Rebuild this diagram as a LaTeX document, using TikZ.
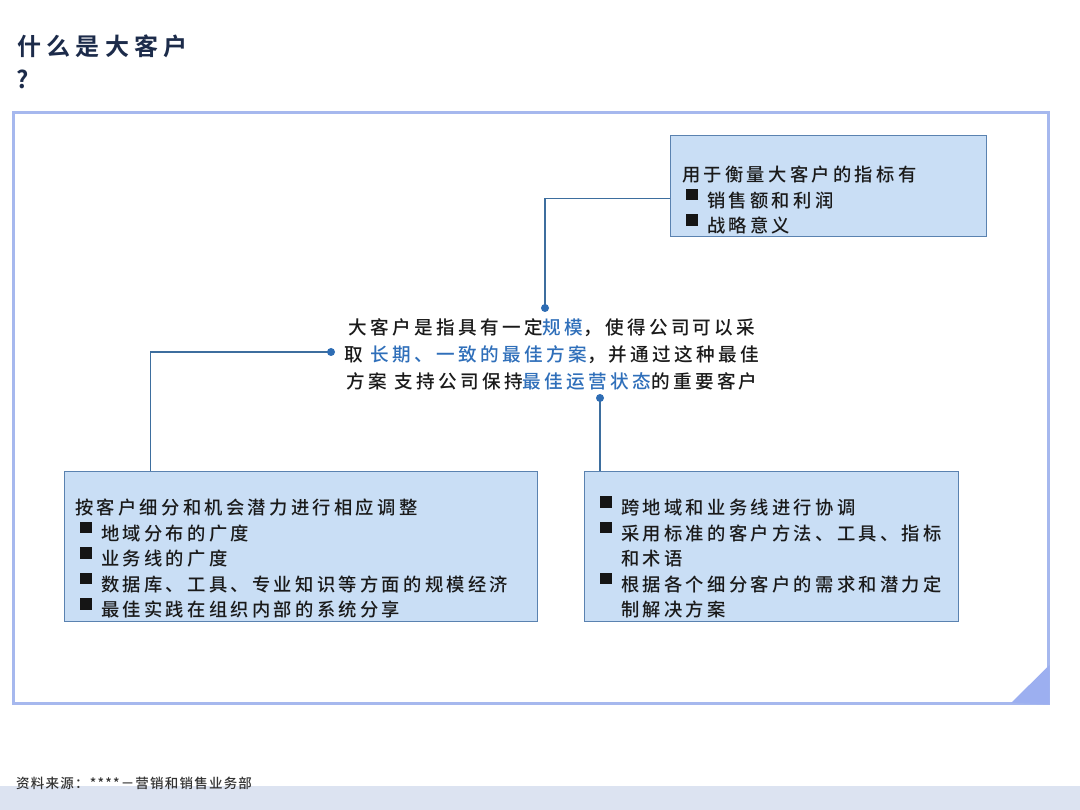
\documentclass[tikz,border=0pt]{standalone}
\usepackage{fontspec}
\newfontfamily\cjk[LetterSpace=18]{Noto Sans CJK SC Medium}
\newfontfamily\cjkt[LetterSpace=22]{Noto Sans CJK SC Bold}
\newfontfamily\cjks[LetterSpace=9]{Noto Sans CJK SC Medium}
\definecolor{bandcol}{HTML}{DCE3F1}
\definecolor{framecol}{HTML}{A6B8EE}
\definecolor{trifill}{HTML}{9CAFF0}
\definecolor{boxfill}{HTML}{C9DEF5}
\definecolor{boxline}{HTML}{5A82B0}
\definecolor{conncol}{HTML}{3D6E9E}
\definecolor{dotcol}{HTML}{2E6DB4}
\definecolor{hl}{HTML}{2F6FBA}
\definecolor{titlecol}{HTML}{1C2B4A}
\definecolor{txt}{HTML}{1A1A1A}
\definecolor{srccol}{HTML}{333333}
\newcommand{\bsq}{\makebox[21pt][l]{\raisebox{7pt}[0pt][0pt]{\color{txt!80!black}\rule{11.5pt}{11.5pt}}}}
\begin{document}
\begin{tikzpicture}[x=1pt,y=-1pt,
  infobox/.style={draw=boxline, line width=1pt, fill=boxfill, inner sep=0pt, anchor=north west},
  boxtext/.style={anchor=north west, inner sep=0pt, align=left, text=txt, font=\cjk\fontsize{18.3}{25.5}\selectfont},
  conn/.style={draw=conncol, line width=1.5pt},
  dotmark/.style={fill=dotcol}]
\useasboundingbox (0,0) rectangle (1080,810);
\fill[white] (0,0) rectangle (1080,810);
\fill[bandcol] (0,786) rectangle (1080,810);
% frame
\draw[framecol, line width=3pt] (13,113) rectangle (1048,703);
\fill[trifill] (1011,703) -- (1049.5,665) -- (1049.5,704.5) -- cycle;
% title
\node[anchor=north west, inner sep=0pt, text=titlecol, font=\cjkt\fontsize{24}{30}\selectfont] (title) at (17,35) {什么是大客户};
\node[anchor=north west, inner sep=0pt, text=titlecol, font=\cjkt\fontsize{24}{30}\selectfont] (qmark) at (16,70) {?};
% source
\node[anchor=north west, inner sep=0pt, text=srccol, font=\cjks\fontsize{13.5}{16}\selectfont] (src) at (16,777) {资料来源：****－营销和销售业务部};
% boxes
\node[infobox, minimum width=316pt, minimum height=101pt] (tr) at (670,135) {};
\node[infobox, minimum width=473pt, minimum height=150pt] (bl) at (64,471) {};
\node[infobox, minimum width=374pt, minimum height=150pt] (br) at (584,471) {};
% box texts
\node[boxtext] (trt) at (682,166) {用于衡量大客户的指标有\\
\hspace*{4pt}\bsq 销售额和利润\\
\hspace*{4pt}\bsq 战略意义};
\node[boxtext] (blt) at (75,499) {按客户细分和机会潜力进行相应调整\\
\hspace*{5pt}\bsq 地域分布的广度\\
\hspace*{5pt}\bsq 业务线的广度\\
\hspace*{5pt}\bsq 数据库、工具、专业知识等方面的规模经济\\
\hspace*{5pt}\bsq 最佳实践在组织内部的系统分享};
\node[boxtext] (brt) at (600,499) {\bsq 跨地域和业务线进行协调\\
\bsq 采用标准的客户方法、工具、指标\\
\hspace*{21pt}和术语\\
\bsq 根据各个细分客户的需求和潜力定\\
\hspace*{21pt}制解决方案};
% centre text
\node[anchor=north, inner sep=0pt, align=center, text=txt, font=\cjk\fontsize{18.6}{27}\selectfont] (ctr) at (552,318) {大客户是指具有一定{\color{hl}规模}，使得公司可以采\\
取 {\color{hl}长期、一致的最佳方案}，并通过这种最佳\\
方案 支持公司保持{\color{hl}最佳运营状态}的重要客户};
% connectors
\coordinate (d1) at (545,308);
\coordinate (d2) at (331,352);
\coordinate (d3) at (600,398);
\draw[conn] ([yshift=-12.5pt]tr.west) -| (d1);
\draw[conn] (d2) -| ([xshift=-150.5pt]bl.north);
\draw[conn] (d3) -- (d3 |- br.north);
\fill[dotmark] (d1) circle (4pt);
\fill[dotmark] (d2) circle (4pt);
\fill[dotmark] (d3) circle (4pt);
\end{tikzpicture}
\end{document}
